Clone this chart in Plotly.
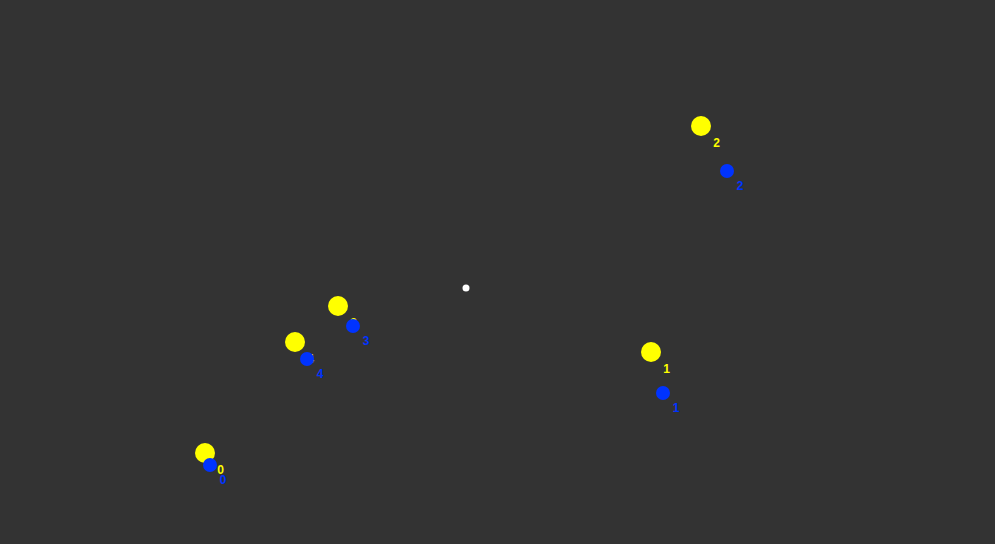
import plotly.graph_objects as go

# pixel-like data coordinates (x right, y up)
labels = ["0", "1", "2", "3", "4"]
yellow_x = [205, 651, 701, 338, 295]
yellow_y = [91, 192, 418, 238, 202]
blue_x = [210, 663, 727, 353, 307]
blue_y = [79, 151, 373, 218, 185]
center_x = [466]
center_y = [256]

font_family = "Liberation Sans, Arial"

fig = go.Figure()
fig.add_trace(go.Scatter(
    x=yellow_x, y=yellow_y, mode="markers",
    marker=dict(color="#ffff00", size=20),
    showlegend=False, hoverinfo="skip",
))
# yellow labels (drawn beneath the blue markers)
fig.add_trace(go.Scatter(
    x=yellow_x, y=yellow_y, mode="markers+text", text=labels,
    textposition="bottom right",
    marker=dict(size=18, opacity=0, color="#ffff00"),
    textfont=dict(color="#ffff00", size=12, family=font_family, weight="bold"),
    showlegend=False, hoverinfo="skip",
))
fig.add_trace(go.Scatter(
    x=blue_x, y=blue_y, mode="markers+text", text=labels,
    textposition="bottom right",
    marker=dict(color="#0033ff", size=14),
    textfont=dict(color="#0033ff", size=12, family=font_family, weight="bold"),
    showlegend=False, hoverinfo="skip",
))
fig.add_trace(go.Scatter(
    x=center_x, y=center_y, mode="markers",
    marker=dict(color="#ffffff", size=7),
    showlegend=False, hoverinfo="skip",
))
fig.update_layout(
    width=995, height=544,
    margin=dict(l=0, r=0, t=0, b=0),
    paper_bgcolor="#333333", plot_bgcolor="#333333",
    xaxis=dict(range=[0, 995], visible=False),
    yaxis=dict(range=[0, 544], visible=False),
)
fig.write_html("out.html")
